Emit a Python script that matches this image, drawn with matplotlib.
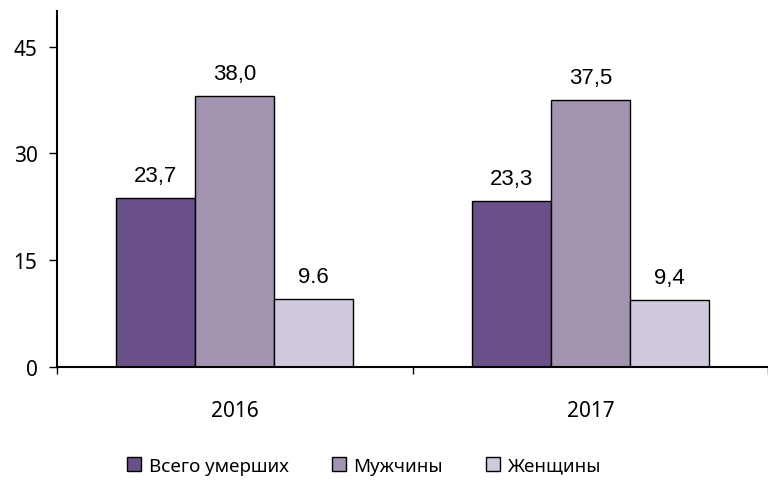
import matplotlib.pyplot as plt
import numpy as np

years = ["2016", "2017"]
series = ["Всего умерших", "Мужчины", "Женщины"]
total = [23.7, 23.3]
men = [38.0, 37.5]
women = [9.6, 9.4]
labels = [["23,7", "23,3"], ["38,0", "37,5"], ["9.6", "9,4"]]
colors = ["#6a5088", "#a293b0", "#d0c8dd"]

plt.rcParams['font.family'] = ['Liberation Sans', 'DejaVu Sans']

fig = plt.figure(figsize=(7.68, 4.81), dpi=100)
ax = fig.add_axes([0.0742, 0.235, 0.926, 0.74])

x = np.arange(len(years))
w = 2 / 9
for i, vals in enumerate([total, men, women]):
    bars = ax.bar(x + (i - 1) * w, vals, w, color=colors[i], edgecolor="black",
                  linewidth=1, label=series[i])
    for b, t in zip(bars, labels[i]):
        ax.text(b.get_x() + b.get_width() / 2, b.get_height() + 1.7, t,
                ha="center", va="bottom", fontsize=16)

ax.set_xlim(-0.5, 1.5)
ax.set_ylim(0, 50)
ax.set_yticks([0, 15, 30, 45])
ax.set_xticks([-0.5, 0.5, 1.5])
ax.set_xticklabels([])
ax.set_xticks(x, minor=True)
ax.set_xticklabels(years, minor=True, fontsize=15, family="Noto Sans")
ax.tick_params(axis="x", which="minor", length=0, pad=24)
ax.tick_params(axis="x", which="major", length=5, direction="out", width=1)
ax.tick_params(axis="y", length=6, width=1, labelsize=15, pad=8)
for lab in ax.get_yticklabels():
    lab.set_family("Noto Sans")
for s in ["top", "right"]:
    ax.spines[s].set_visible(False)
for s in ["left", "bottom"]:
    ax.spines[s].set_linewidth(1.5)

fig.legend(loc="center", ncol=3, frameon=False, bbox_to_anchor=(0.474, 0.03),
           prop={"family": "Noto Sans", "size": 13.5},
           handlelength=0.75, handleheight=0.75, handletextpad=0.4, columnspacing=2.3)

fig.savefig("out.png", dpi=100)
